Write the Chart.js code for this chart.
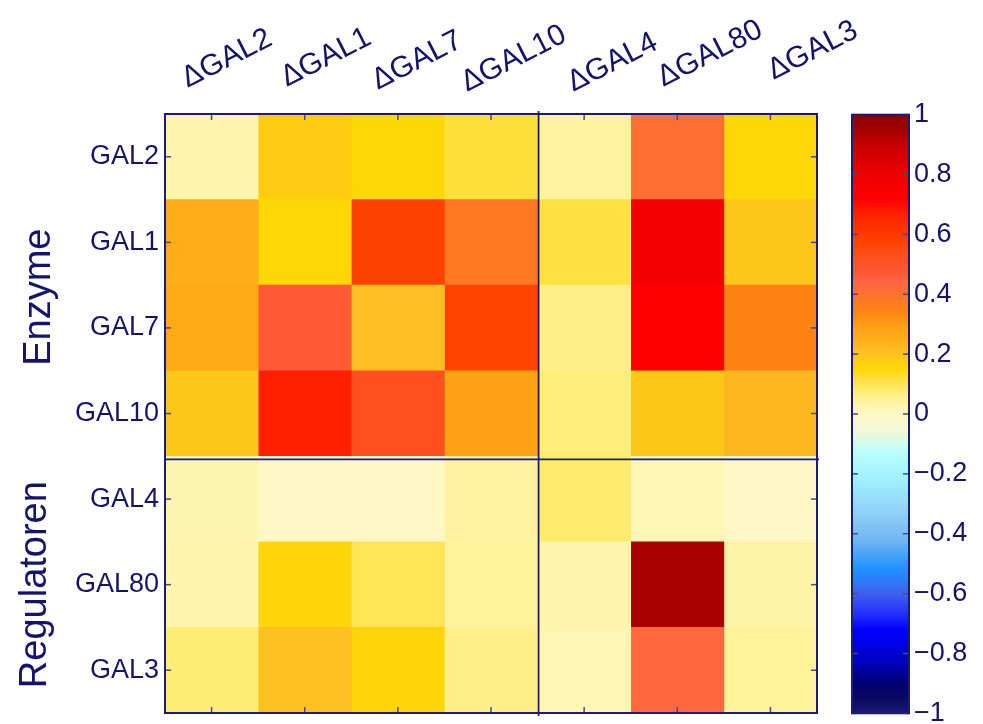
<!DOCTYPE html>
<html><head><meta charset="utf-8">
<script src="https://cdn.jsdelivr.net/npm/chart.js@4/dist/chart.umd.min.js"></script>
<style>
html,body{margin:0;padding:0;background:#fff;overflow:hidden;width:983px;height:724px;}
#main{position:absolute;left:0;top:0;}
#cbar{position:absolute;left:840px;top:0;}
</style></head><body>
<canvas id="main" width="983" height="760"></canvas>
<canvas id="cbar" width="143" height="760"></canvas>
<script>
// ---------------- DATA ----------------
const rowLabels = ['GAL2', 'GAL1', 'GAL7', 'GAL10', 'GAL4', 'GAL80', 'GAL3'];
const colLabels = ['\u0394GAL2', '\u0394GAL1', '\u0394GAL7', '\u0394GAL10', '\u0394GAL4', '\u0394GAL80', '\u0394GAL3'];
const rowGroups = ['Enzyme', 'Regulatoren'];
const rowGroupSizes = [4, 3];
const colGroupSizes = [4, 3];
// values per row (columns in colLabels order)
const valGAL2  = [0.03, 0.18, 0.15, 0.12, 0.04, 0.41, 0.15];
const valGAL1  = [0.25, 0.15, 0.58, 0.38, 0.115, 0.78, 0.195];
const valGAL7  = [0.27, 0.47, 0.21, 0.57, 0.06, 0.72, 0.345];
const valGAL10 = [0.195, 0.67, 0.52, 0.29, 0.07, 0.19, 0.23];
const valGAL4  = [0.025, 0.005, 0.002, 0.04, 0.08, 0.02, 0.002];
const valGAL80 = [0.03, 0.158, 0.10, 0.045, 0.03, 0.94, 0.035];
const valGAL3  = [0.075, 0.205, 0.16, 0.06, 0.022, 0.43, 0.045];
const cbarTickValues = [-1, -0.8, -0.6, -0.4, -0.2, 0, 0.2, 0.4, 0.6, 0.8, 1];
const matrix = [valGAL2, valGAL1, valGAL7, valGAL10, valGAL4, valGAL80, valGAL3];

// ---------------- STYLE ----------------
const FONT = "'Liberation Sans', Arial, Helvetica, sans-serif";
const STYLE = {
  text: '#14146E', axis: '#1C1C78', tick: '#4A4A80', tickLen: 6,
  colLabelFont: 30, rowLabelFont: 27, groupFont: 38, angle: 27,
  // per-label nudges (dx from column centre, baseline y)
  colLabelNudge: [[-24, 88], [-18, 87], [-20, 90], [-24, 92], [-11, 92], [-14, 87], [3, 80]],
  groupBaselineX: [50, 46], groupDy: [12, 0]
};
const cmapStops = [
  [-1, '#191970'], [-0.95, '#0A0A60'], [-0.9, '#000070'], [-0.83, '#0000C0'], [-0.72, '#0000FF'],
  [-0.67, '#2030FF'], [-0.6, '#4060F0'], [-0.52, '#1E90FF'], [-0.42, '#70B8F0'], [-0.33, '#90D0F8'],
  [-0.22, '#A0F0FF'], [-0.13, '#B8FFFF'], [-0.06, '#F0F8D8'], [0, '#FFF8C8'],
  [0.02, '#FFF6B8'], [0.04, '#FFF3A0'], [0.06, '#FFF08A'], [0.08, '#FFEC6E'], [0.10, '#FFE555'],
  [0.12, '#FFE03A'], [0.15, '#FFD808'], [0.18, '#FFCC12'], [0.21, '#FFBF24'], [0.25, '#FFAE1A'],
  [0.29, '#FFA315'], [0.34, '#FF8412'], [0.38, '#FF7722'], [0.41, '#FF6F33'], [0.44, '#FF6545'],
  [0.47, '#FF5A35'], [0.52, '#FF5020'], [0.57, '#FF4400'], [0.63, '#FF3000'], [0.67, '#FF2000'],
  [0.72, '#FF0000'], [0.79, '#F00000'], [0.89, '#CC0000'], [0.94, '#AA0000'], [1, '#8B0000']
];
function hex2rgb(h) { return [1, 3, 5].map(i => parseInt(h.substr(i, 2), 16)); }
function cmap(v) {
  v = Math.max(-1, Math.min(1, v));
  for (let k = 1; k < cmapStops.length; k++) {
    const [v1, c1] = cmapStops[k];
    if (v <= v1) {
      const [v0, c0] = cmapStops[k - 1];
      const t = (v - v0) / (v1 - v0);
      const a = hex2rgb(c0), b = hex2rgb(c1);
      const c = a.map((x, i) => Math.round(x + (b[i] - x) * t));
      return `rgb(${c[0]},${c[1]},${c[2]})`;
    }
  }
  return cmapStops[cmapStops.length - 1][1];
}

Chart.defaults.font.family = FONT;
Chart.defaults.color = STYLE.text;

function line(ctx, x0, y0, x1, y1) { ctx.beginPath(); ctx.moveTo(x0, y0); ctx.lineTo(x1, y1); ctx.stroke(); }

// ---------------- MAIN HEATMAP ----------------
const datasets = colLabels.map((lab, j) => ({
  label: lab,
  data: rowLabels.map(() => [j, j + 1]),
  backgroundColor: rowLabels.map((_, i) => cmap(matrix[i][j])),
  borderWidth: 0,
  barPercentage: 1,
  categoryPercentage: 1,
  grouped: false
}));

const decor = {
  id: 'decor',
  afterDatasetsDraw(chart) {
    const { ctx, chartArea: a, scales: { x, y } } = chart;
    ctx.save();
    // inward ticks
    ctx.strokeStyle = STYLE.tick; ctx.lineWidth = 1.5;
    colLabels.forEach((_, j) => {
      const px = x.getPixelForValue(j + 0.5);
      line(ctx, px, a.top, px, a.top + STYLE.tickLen);
      line(ctx, px, a.bottom, px, a.bottom - STYLE.tickLen);
    });
    rowLabels.forEach((_, i) => {
      const py = y.getPixelForValue(i);
      line(ctx, a.left, py, a.left + STYLE.tickLen, py);
      line(ctx, a.right, py, a.right - STYLE.tickLen, py);
    });
    // frame
    ctx.strokeStyle = STYLE.axis; ctx.lineWidth = 2;
    ctx.strokeRect(a.left, a.top, a.right - a.left, a.bottom - a.top);
    // group dividers
    const vx = x.getPixelForValue(colGroupSizes[0]) + 1;
    const band = (a.bottom - a.top) / rowLabels.length;
    const hy = a.top + band * rowGroupSizes[0] + 3;
    ctx.lineWidth = 1.8;
    line(ctx, vx, a.top - 3, vx, a.bottom + 3);
    line(ctx, a.left, hy, a.right + 2, hy);
    // column labels (rotated)
    ctx.fillStyle = STYLE.text;
    ctx.font = `${STYLE.colLabelFont}px ${FONT}`;
    ctx.textAlign = 'left'; ctx.textBaseline = 'alphabetic';
    colLabels.forEach((lab, j) => {
      const [dx, by] = STYLE.colLabelNudge[j];
      ctx.save();
      ctx.translate(x.getPixelForValue(j + 0.5) + dx, by);
      ctx.rotate(-STYLE.angle * Math.PI / 180);
      ctx.fillText(lab, 0, 0);
      ctx.restore();
    });
    // row group labels (vertical)
    ctx.font = `${STYLE.groupFont}px ${FONT}`;
    ctx.textAlign = 'center';
    let start = 0;
    rowGroups.forEach((g, k) => {
      const cy = a.top + band * (start + rowGroupSizes[k] / 2) + STYLE.groupDy[k];
      ctx.save();
      ctx.translate(STYLE.groupBaselineX[k], cy);
      ctx.rotate(-Math.PI / 2);
      ctx.fillText(g, 0, 0);
      ctx.restore();
      start += rowGroupSizes[k];
    });
    ctx.restore();
  }
};

new Chart(document.getElementById('main'), {
  type: 'bar',
  data: { labels: rowLabels, datasets },
  options: {
    indexAxis: 'y', responsive: false, animation: false, devicePixelRatio: 1,
    layout: { padding: { left: 0, top: 114, right: 166, bottom: 47 } },
    plugins: { legend: { display: false }, tooltip: { enabled: false } },
    scales: {
      x: { type: 'linear', min: 0, max: colLabels.length, display: false },
      y: {
        type: 'category', position: 'left',
        grid: { display: false, drawTicks: false }, border: { display: false },
        ticks: { color: STYLE.text, font: { size: STYLE.rowLabelFont, family: FONT }, padding: 6 },
        afterFit(s) { s.width = 165; }
      }
    }
  },
  plugins: [decor]
});

// ---------------- COLORBAR ----------------
const cbarDecor = {
  id: 'cbarDecor',
  afterDatasetsDraw(chart) {
    const { ctx, chartArea: a, scales: { y } } = chart;
    ctx.save();
    ctx.strokeStyle = STYLE.tick; ctx.lineWidth = 1.5;
    cbarTickValues.forEach(v => {
      const py = y.getPixelForValue(v);
      line(ctx, a.left, py, a.left + STYLE.tickLen, py);
      line(ctx, a.right, py, a.right - STYLE.tickLen, py);
    });
    ctx.strokeStyle = STYLE.axis; ctx.lineWidth = 2;
    ctx.strokeRect(a.left, a.top, a.right - a.left, a.bottom - a.top);
    ctx.restore();
  }
};

new Chart(document.getElementById('cbar'), {
  type: 'bar',
  data: {
    labels: ['scale'],
    datasets: [{
      data: [[cbarTickValues[0], cbarTickValues[cbarTickValues.length - 1]]],
      borderWidth: 0, barPercentage: 1, categoryPercentage: 1,
      backgroundColor(c) {
        const ch = c.chart;
        if (!ch.chartArea) return cmap(0);
        const y = ch.scales.y;
        const g = ch.ctx.createLinearGradient(0, y.getPixelForValue(-1), 0, y.getPixelForValue(1));
        cmapStops.forEach(([v, col]) => g.addColorStop((v + 1) / 2, col));
        return g;
      }
    }]
  },
  options: {
    responsive: false, animation: false, devicePixelRatio: 1,
    layout: { padding: { left: 12, top: 114.7, right: 0, bottom: 46.7 } },
    plugins: { legend: { display: false }, tooltip: { enabled: false } },
    scales: {
      x: { display: false },
      y: {
        type: 'linear', position: 'right', min: -1, max: 1,
        grid: { display: false, drawTicks: false }, border: { display: false },
        afterBuildTicks(s) { s.ticks = cbarTickValues.map(v => ({ value: v })); },
        ticks: {
          color: STYLE.text, font: { size: STYLE.rowLabelFont, family: FONT }, padding: 5,
          callback: v => String(Math.round(v * 10) / 10).replace('-', '\u2212')
        },
        afterFit(s) { s.width = 74; }
      }
    }
  },
  plugins: [cbarDecor]
});
</script>
</body></html>
